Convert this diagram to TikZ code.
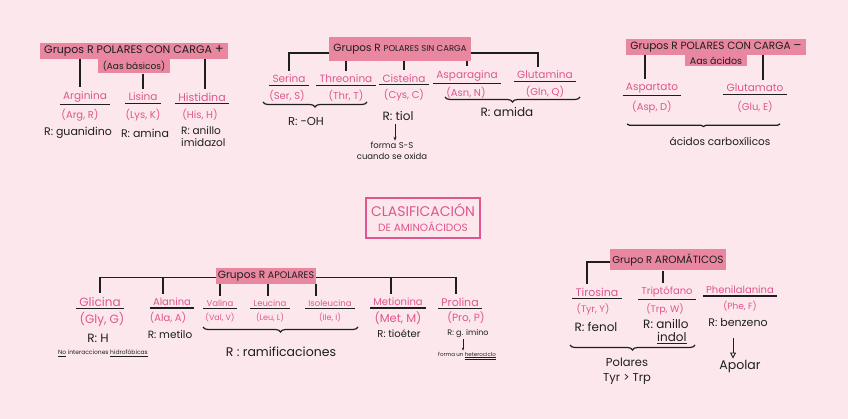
\documentclass[tikz,border=0pt]{standalone}
\usepackage{fontspec}
\setmainfont{Poppins}
\usetikzlibrary{decorations.pathreplacing,arrows.meta}
\definecolor{bg}{HTML}{FCE8EC}
\definecolor{boxpink}{HTML}{E8879F}
\definecolor{aapink}{HTML}{DE568C}
\definecolor{ink}{HTML}{1E1E1E}
\newcommand{\fs}[1]{\fontsize{#1}{#1}\selectfont}
\begin{document}
\begin{tikzpicture}[x=1pt,y=-1pt,
 grp/.style={fill=boxpink, inner xsep=4pt, inner ysep=2.5pt, font=\fs{10.5}, text=ink},
 sub/.style={fill=boxpink, inner xsep=5pt, inner ysep=2pt, font=\fs{9}, text=ink},
 aa/.style={text=aapink, font=\fs{10.5}, inner xsep=3pt, inner ysep=2pt,
   append after command={(\tikzlastnode.south west) edge[draw=ink, line width=1.1pt] (\tikzlastnode.south east)}},
 ab/.style={text=aapink, font=\fs{10}, inner sep=1pt},
 rr/.style={text=ink, font=\fs{11}, inner sep=1pt, align=center},
 note/.style={text=ink, font=\fs{6.5}, inner sep=1pt, align=center},
 ln/.style={draw=ink, line width=1.2pt},
 br/.style={draw=ink, line width=1.2pt, decorate, decoration={brace, mirror, amplitude=5pt}},
 arr/.style={draw=ink, line width=0.9pt, -{Stealth[length=4pt]}},
]
\fill[bg] (0,0) rectangle (848,419);
\useasboundingbox (0,0) rectangle (848,419);

% ---------- Group 1: polares con carga +
\node[grp, font=\fs{11}] (g1) at (134,51) {Grupos R {\fs{11}POLARES CON CARGA} {\fs{13}+}};
\node[sub, anchor=north] (g1b) at (g1.south) {(Aas básicos)};
\node[aa] (arg) at (85,97) {Arginina};
\node[ab] (argab) at (80,115) {(Arg, R)};
\node[rr] (argr) at (78,133) {R: guanidino};
\node[aa] (lys) at (143,97) {Lisina};
\node[ab] (lysab) at (143,115) {(Lys, K)};
\node[rr] (lysr) at (145,133) {R: amina};
\node[aa, font=\fs{11}] (his) at (202,97) {Histidina};
\node[ab] (hisab) at (200,115) {(His, H)};
\node[rr, align=left, anchor=north west, font=\fs{10.5}] (hisr) at (180,125) {R: anillo\\[2pt] imidazol};
\draw[ln] (80,0 |- g1.south) -- ([yshift=2pt]80,0 |- arg.north);
\draw[ln] (lys.north |- g1b.south) -- ([yshift=2pt]lys.north);
\draw[ln] (205,0 |- g1.south) -- ([yshift=2pt]205,0 |- his.north);

% ---------- Group 2: polares sin carga
\node[grp, minimum height=24pt] (g2) at (400,49) {Grupos R {\fs{8.5}POLARES SIN CARGA}};
\node[aa] (ser) at (289,79) {Serina};
\node[ab] (serab) at (287,96) {(Ser, S)};
\node[aa] (thr) at (346,79) {Threonina};
\node[ab] (thrab) at (346,96) {(Thr, T)};
\node[aa] (cys) at (404,78) {Cisteína};
\node[ab] (cysab) at (404,95) {(Cys, C)};
\node[aa] (asn) at (467,76) {Asparagina};
\node[ab] (asnab) at (466,93) {(Asn, N)};
\node[aa] (gln) at (545,75) {Glutamina};
\node[ab] (glnab) at (545,92) {(Gln, Q)};
\draw[ln] ([yshift=-4pt]g2.west) -| ([yshift=2pt]ser.north);
\draw[ln] ([yshift=-4pt]g2.east) -| ([yshift=2pt]538,0 |- gln.north);
\draw[ln] (thr.north |- g2.south) -- ([yshift=2pt]thr.north);
\draw[ln] (cys.north |- g2.south) -- ([yshift=2pt]cys.north);
\draw[ln] (asn.north |- g2.south) -- ([yshift=2pt]asn.north);
\coordinate (b1a) at (263,102);
\coordinate (b1b) at (367,102);
\draw[br] (b1a) -- (b1b);
\node[rr, font=\fs{11.5}] (oh) at (306,121) {R: -OH};
\node[rr, font=\fs{12}] (tiol) at (398,116) {R: tiol};
\node[note, font=\fs{8.5}, align=center] (ss) at (392,151) {forma S-S\\[3pt] cuando se oxida};
\coordinate (tiolb) at ([yshift=-2pt]tiol.south);
\draw[arr] (395,0 |- tiolb) -- (395,0 |- ss.north);
\coordinate (b2a) at (445,97);
\coordinate (b2b) at (580,97);
\draw[br] (b2a) -- (b2b);
\node[rr, font=\fs{12}] (amida) at (507,112) {R: amida};

% ---------- Group 3: polares con carga -
\node[grp] (g3) at (716,47) {Grupos R {\fs{10.5}POLARES CON CARGA} {\fs{12}--}};
\node[sub, anchor=north, font=\fs{9.5}] (g3b) at (g3.south) {Aas ácidos};
\node[aa] (asp) at (652,88) {Aspartato};
\node[ab] (aspab) at (652,107) {(Asp, D)};
\node[aa] (glu) at (755,88) {Glutamato};
\node[ab] (gluab) at (755,107) {(Glu, E)};
\draw[ln] (645,0 |- g3.south) -- ([yshift=2pt]645,0 |- asp.north);
\draw[ln] (763,0 |- g3.south) -- ([yshift=2pt]763,0 |- glu.north);
\coordinate (b3a) at (627,124);
\coordinate (b3b) at (780,124);
\draw[br, decoration={brace, mirror, amplitude=2.5pt}] (b3a) -- (b3b);
\node[rr, font=\fs{10.5}] (carb) at (720,141) {ácidos carboxílicos};

% ---------- Center title
\node[draw=aapink, line width=1.3pt, text=aapink, align=center, inner xsep=3pt, inner ysep=3pt,
  font=\fs{14}, minimum width=114pt, minimum height=40pt] (title) at (423,218)
  {CLASIFICACIÓN\\[1pt] {\fs{10.5}DE AMINOÁCIDOS}};

% ---------- Group 4: apolares
\node[grp, font=\fs{10.5}, inner xsep=2pt] (g4) at (266,276) {Grupos R {\fs{9.5}APOLARES}};
\coordinate (h4) at ([yshift=-1.5pt]g4.west);
\node[aa, font=\fs{12}] (gly) at (100,302) {Glicina};
\node[ab, font=\fs{12}] (glyab) at (102,319) {(Gly, G)};
\node[rr, font=\fs{12}] (glyr) at (98,338) {R: H};
\node[note, font=\fs{6}] (glyn) at (103,353) {\underline{No} interacciones \underline{hidrofóbicas}};
\node[aa, font=\fs{10}] (ala) at (172,302) {Alanina};
\node[ab] (alaab) at (168,318) {(Ala, A)};
\node[rr, font=\fs{10.5}] (alar) at (170,335) {R: metilo};
\node[aa, font=\fs{8.5}] (val) at (220,303) {Valina};
\node[ab, font=\fs{8}] (valab) at (220,318) {(Val, V)};
\node[aa, font=\fs{8.5}] (leu) at (270,303) {Leucina};
\node[ab, font=\fs{8}] (leuab) at (270,318) {(Leu, L)};
\node[aa, font=\fs{8.5}] (ile) at (330,303) {Isoleucina};
\node[ab, font=\fs{8}] (ileab) at (330,318) {(Ile, I)};
\node[aa, font=\fs{10}] (met) at (398,302) {Metionina};
\node[ab, font=\fs{11.5}] (metab) at (398,318) {(Met, M)};
\node[rr, font=\fs{10}] (metr) at (399,334) {R: tioéter};
\node[aa, font=\fs{11}] (pro) at (460,302) {Prolina};
\node[ab, font=\fs{10.5}] (proab) at (466,318) {(Pro, P)};
\node[rr, font=\fs{8}] (pror) at (468,334) {R: g. imino};
\node[note, font=\fs{5.5}] (pron) at (467,356) {forma un \underline{\underline{heterociclo}}};
\draw[arr, -{Stealth[length=3pt]}] (463,0 |- pror.south) -- (463,0 |- pron.north);
\draw[ln] (h4) -| ([yshift=2pt]gly.north);
\draw[ln] (h4 -| g4.east) -| ([yshift=2pt]456,0 |- pro.north);
\draw[ln] (163,0 |- h4) -- ([yshift=2pt]163,0 |- ala.north);
\draw[ln] (391,0 |- h4) -- ([yshift=2pt]391,0 |- met.north);
\draw[ln] (220,0 |- g4.south) -- ([yshift=2pt]220,0 |- val.north);
\draw[ln] (268,0 |- g4.south) -- ([yshift=2pt]268,0 |- leu.north);
\draw[ln] (316,0 |- g4.south) -- ([yshift=2pt]316,0 |- ile.north);
\coordinate (b4a) at (203,327);
\coordinate (b4b) at (358,327);
\draw[br] (b4a) -- (b4b);
\node[rr, font=\fs{12.5}] (ram) at (281,352) {R : ramificaciones};

% ---------- Group 5: aromaticos
\node[grp, font=\fs{10}, minimum height=21pt, inner xsep=2pt] (g5) at (668,260) {Grupo R {\fs{10.5}AROMÁTICOS}};
\node[aa, font=\fs{11}] (tyr) at (597,292) {Tirosina};
\node[ab, font=\fs{9.5}] (tyrab) at (593,309) {(Tyr, Y)};
\node[rr, font=\fs{12}] (tyrr) at (596,327) {R: fenol};
\node[aa, font=\fs{10}] (trp) at (667,292) {Triptófano};
\node[ab, font=\fs{9.5}] (trpab) at (665,309) {(Trp, W)};
\node[rr, align=left, anchor=north west, font=\fs{12}] (trpr) at (642,318) {R: anillo\\[1pt] \hspace*{14pt}\underline{indol}};
\node[aa, font=\fs{10}] (phe) at (740,290) {Phenilalanina};
\node[ab, font=\fs{9}] (pheab) at (740,306) {(Phe, F)};
\node[rr, font=\fs{11}] (pher) at (738,322) {R: benzeno};
\draw[ln] ([yshift=-2pt]g5.west) -| ([yshift=2pt]587,0 |- tyr.north);
\draw[ln] (663,0 |- g5.south) -- ([yshift=2pt]663,0 |- trp.north);
\coordinate (b5a) at (570,345);
\coordinate (b5b) at (695,345);
\draw[br] (b5a) -- (b5b);
\node[rr, align=center, font=\fs{11.5}] (pol) at (627,371) {Polares\\[3pt] Tyr > Trp};
\node[rr, font=\fs{12.5}] (apo) at (740,366) {Apolar};
\coordinate (apot) at (733,338);
\draw[draw=ink, line width=0.9pt, -{Triangle[open, length=6pt, width=6pt]}] (apot) -- (apot |- apo.north);
\end{tikzpicture}
\end{document}
